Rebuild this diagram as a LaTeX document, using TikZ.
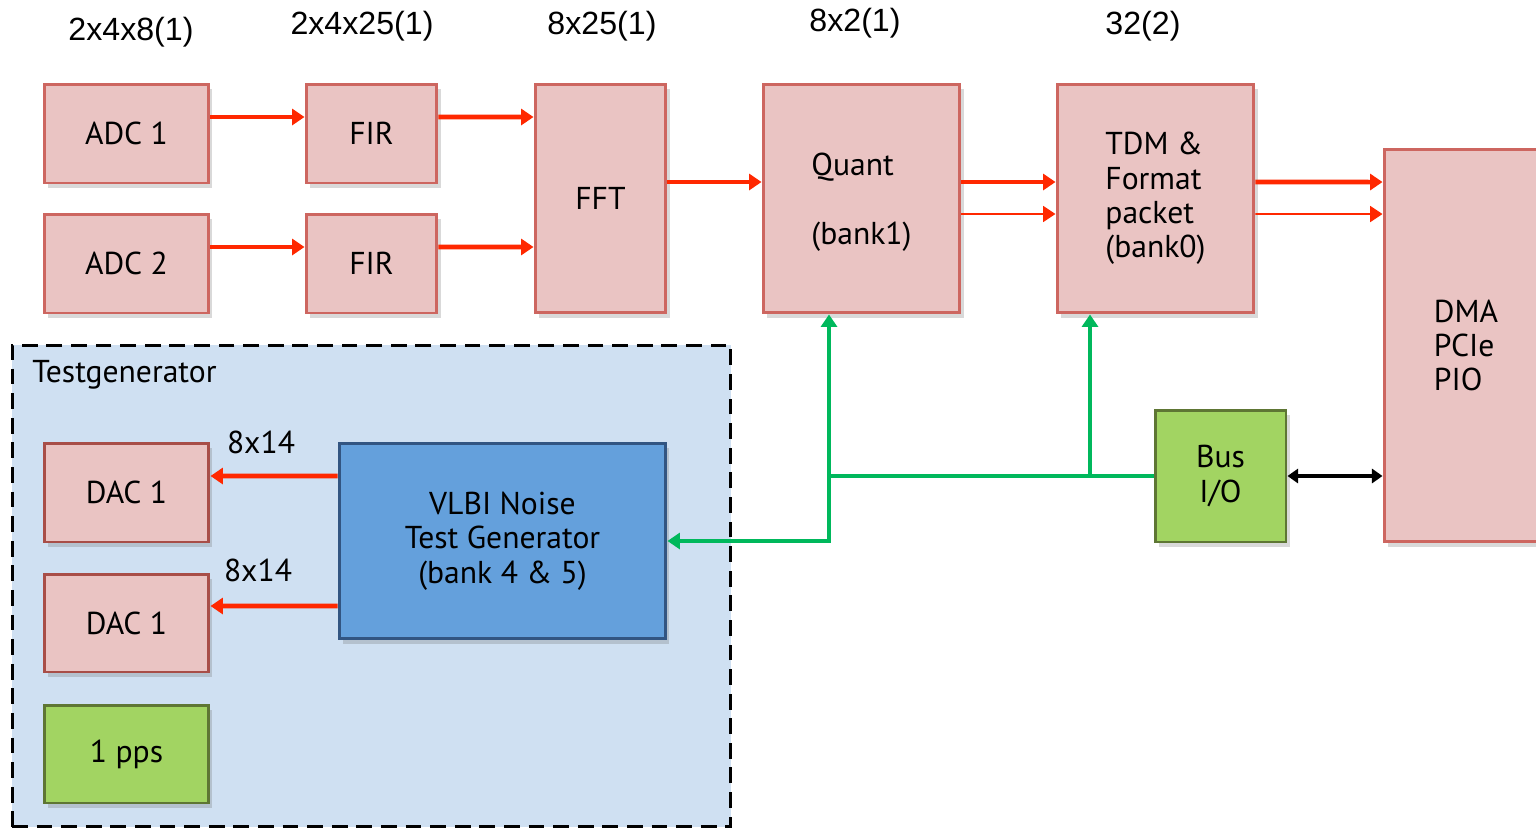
\documentclass[tikz,border=0pt]{standalone}
\usepackage{fontspec}
\setmainfont{PT Sans}
\newfontfamily\labfont{Liberation Sans}
\usetikzlibrary{arrows.meta,shadows}
\definecolor{pinkfill}{RGB}{234,196,195}
\definecolor{pinkdraw}{RGB}{205,102,96}
\definecolor{dacdraw}{RGB}{168,78,72}
\definecolor{redarrow}{RGB}{255,40,0}
\definecolor{greenline}{RGB}{0,184,92}
\definecolor{testfill}{RGB}{207,224,242}
\definecolor{vlbifill}{RGB}{100,160,220}
\definecolor{vlbidraw}{RGB}{50,85,130}
\definecolor{limefill}{RGB}{162,212,98}
\definecolor{limedraw}{RGB}{94,118,52}
\begin{document}
\begin{tikzpicture}[x=0.02cm,y=-0.02cm,
  txt/.style={font=\fontsize{18}{19.6}\selectfont},
  shad/.style={drop shadow={shadow xshift=2pt,shadow yshift=-3pt,opacity=0.25,fill=black!60}},
  pinkbox/.style={txt,shad,draw=pinkdraw,fill=pinkfill,line width=1.7pt,inner sep=0pt,align=left},
  dacbox/.style={pinkbox,draw=dacdraw},
  limebox/.style={txt,shad,draw=limedraw,fill=limefill,line width=1.7pt,inner sep=0pt,align=center},
  vlbibox/.style={txt,shad,draw=vlbidraw,fill=vlbifill,line width=1.7pt,inner sep=0pt,align=center},
  toplab/.style={font=\labfont\fontsize{18.3}{20}\selectfont,inner sep=0pt},
  redthick/.style={draw=redarrow,line width=2.6pt,-{Triangle[length=7pt,width=9pt]}},
  redthin/.style={draw=redarrow,line width=1.1pt,-{Triangle[length=7pt,width=9pt]}},
  greenl/.style={draw=greenline,line width=2.4pt},
  greena/.style={greenl,-{Triangle[length=7pt,width=9pt]}},
  blacka/.style={draw=black,line width=2.2pt,{Triangle[length=6pt,width=8pt]}-{Triangle[length=6pt,width=8pt]}}
]
\useasboundingbox (0,0) rectangle (1536,829);

% Testgenerator region
\node[draw=black,fill=testfill,line width=1.7pt,dash pattern=on 9pt off 5pt,
      minimum width=14.38cm,minimum height=9.64cm,inner sep=0pt] (tg) at (371.5,586) {};
\node[txt,anchor=west,inner sep=0pt] (tglab) at (32,375) {Testgenerator};

% top labels
\node[toplab] (l1) at (131,32) {2x4x8(1)};
\node[toplab] (l2) at (362,26) {2x4x25(1)};
\node[toplab] (l3) at (602,26) {8x25(1)};
\node[toplab] (l4) at (855,23) {8x2(1)};
\node[toplab] (l5) at (1143,26) {32(2)};

% boxes
\node[pinkbox,minimum width=3.3cm,minimum height=1.98cm] (adc1) at (126.5,133.5) {ADC 1};
\node[pinkbox,minimum width=3.3cm,minimum height=1.98cm] (adc2) at (126.5,263.5) {ADC 2};
\node[pinkbox,minimum width=2.62cm,minimum height=1.98cm] (fir1) at (371.5,133.5) {FIR};
\node[pinkbox,minimum width=2.62cm,minimum height=1.98cm] (fir2) at (371.5,263.5) {FIR};
\node[pinkbox,minimum width=2.62cm,minimum height=4.58cm] (fft) at (600.5,198.5) {FFT};
\node[pinkbox,minimum width=3.94cm,minimum height=4.58cm] (quant) at (861.5,198.5) {\rule{0pt}{17.5pt}Quant\\\mbox{}\\(bank1)};
\node[pinkbox,minimum width=3.94cm,minimum height=4.58cm] (tdm) at (1155.5,198.5) {TDM \&\\Format\\packet\\(bank0)};
\node[pinkbox,minimum width=3.28cm,minimum height=7.86cm] (dma) at (1466,345.5) {DMA\\PCIe\\PIO};
\node[limebox,minimum width=2.62cm,minimum height=2.64cm] (bus) at (1220.5,476) {Bus\\I/O};

\node[dacbox,minimum width=3.3cm,minimum height=1.98cm] (dac1) at (126.5,492.5) {DAC 1};
\node[dacbox,minimum width=3.3cm,minimum height=1.96cm] (dac2) at (126.5,623) {DAC 1};
\node[limebox,minimum width=3.3cm,minimum height=1.96cm] (pps) at (126.5,754) {1 pps};
\node[vlbibox,minimum width=6.54cm,minimum height=3.92cm] (vlbi) at (502.5,541) {VLBI Noise\\Test Generator\\(bank 4 \& 5)};

\node[txt,inner sep=0pt] (lab1) at (261,442) {8x14};
\node[txt,inner sep=0pt] (lab2) at (258,570) {8x14};

% red arrows
\draw[redthick] ([yshift=0.33cm]adc1.east) -- ([yshift=0.33cm]fir1.west);
\draw[redthick] ([yshift=0.33cm]adc2.east) -- ([yshift=0.33cm]fir2.west);
\draw[redthick] ([yshift=0.33cm]fir1.east) -- ([yshift=1.63cm]fft.west);
\draw[redthick] ([yshift=0.33cm]fir2.east) -- ([yshift=-0.97cm]fft.west);
\draw[redthick] ([yshift=0.33cm]fft.east) -- ([yshift=0.33cm]quant.west);
\draw[redthick] ([yshift=0.33cm]quant.east) -- ([yshift=0.33cm]tdm.west);
\draw[redthin] ([yshift=-0.31cm]quant.east) -- ([yshift=-0.31cm]tdm.west);
\draw[redthick] ([yshift=0.33cm]tdm.east) -- ([yshift=3.27cm]dma.west);
\draw[redthin] ([yshift=-0.31cm]tdm.east) -- ([yshift=2.63cm]dma.west);
\draw[redthick] ([yshift=1.3cm]vlbi.west) -- ([yshift=0.33cm]dac1.east);
\draw[redthick] ([yshift=-1.3cm]vlbi.west) -- ([yshift=0.34cm]dac2.east);

% green bus
\coordinate (j1) at (829,476);
\coordinate (j2) at (1090,476);
\coordinate (j3) at (829,541);
\draw[greenl] (bus.west) -- (j1);
\draw[greena] (j1) -- (j1 |- quant.south);
\draw[greena] (j2) -- (j2 |- tdm.south);
\draw[greena] (j1) -- (j3) -- (vlbi.east);

% black double arrow
\draw[blacka] (bus.east) -- (dma.west |- bus.east);
\end{tikzpicture}
\end{document}
